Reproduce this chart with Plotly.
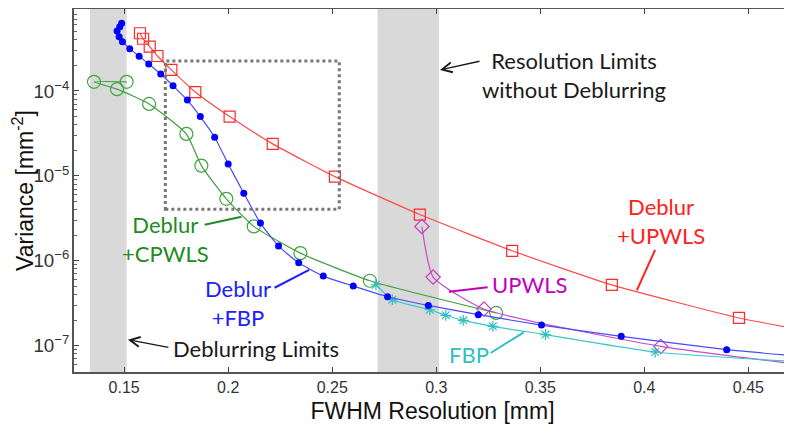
import plotly.graph_objects as go

# ---------------- data ----------------
upwls_deblur_x = [0.1576, 0.1591, 0.1623, 0.1660, 0.1727, 0.1842, 0.2007, 0.2214, 0.2513, 0.2921, 0.3365, 0.3844, 0.4455, 0.4720]
upwls_deblur_y = [4.78e-4, 4.12e-4, 3.32e-4, 2.58e-4, 1.77e-4, 9.7e-5, 4.99e-5, 2.38e-5, 9.8e-6, 3.5e-6, 1.31e-6, 5.2e-7, 2.12e-7, 1.60e-7]

fbp_deblur_x = [0.1488, 0.1479, 0.1466, 0.1476, 0.1492, 0.1527, 0.1572, 0.1618, 0.1676, 0.1735, 0.1804, 0.1866,
                0.1935, 0.2000, 0.2075, 0.2155, 0.2242, 0.2339, 0.2457, 0.2601, 0.2766, 0.2962, 0.3202, 0.3506,
                0.3889, 0.4396, 0.4720]
fbp_deblur_y = [6.25e-4, 5.7e-4, 5.08e-4, 4.36e-4, 3.8e-4, 3.15e-4, 2.56e-4, 2.08e-4, 1.58e-4, 1.15e-4, 7.8e-5, 4.99e-5,
                2.85e-5, 1.38e-5, 6.25e-6, 2.78e-6, 1.49e-6, 9.47e-7, 6.6e-7, 5.04e-7, 3.77e-7, 2.98e-7, 2.32e-7, 1.75e-7,
                1.29e-7, 8.97e-8, 7.6e-8]

cpwls_deblur_x = [0.1512, 0.1355, 0.1466, 0.1620, 0.1799, 0.1871, 0.1991, 0.2123, 0.2347, 0.2681, 0.3288]
cpwls_deblur_y = [1.28e-4, 1.28e-4, 1.05e-4, 7.03e-5, 3.12e-5, 1.32e-5, 5.36e-6, 2.54e-6, 1.23e-6, 5.82e-7, 2.43e-7]

upwls_x = [0.2931, 0.2985, 0.3229, 0.4079, 0.4720]
upwls_y = [2.53e-6, 6.43e-7, 2.70e-7, 9.8e-8, 6.1e-8]

fbp_x = [0.2710, 0.2789, 0.2969, 0.3046, 0.3130, 0.3272, 0.3525, 0.4052, 0.4720]
fbp_y = [5.22e-7, 3.48e-7, 2.65e-7, 2.28e-7, 1.99e-7, 1.69e-7, 1.35e-7, 8.43e-8, 6.5e-8]

x_ticks = [0.15, 0.2, 0.25, 0.3, 0.35, 0.4, 0.45]
x_tick_labels = ["0.15", "0.2", "0.25", "0.3", "0.35", "0.4", "0.45"]

deblur_limits = [0.1336, 0.1512]
nodeblur_limits = [0.2718, 0.3013]
zoom_box_x = [0.1698, 0.2534]
zoom_box_y = [4.05e-6, 2.25e-4]

# ---------------- figure ----------------
fig = go.Figure()

def add_series(x, y, line_color, marker):
    fig.add_trace(go.Scatter(
        x=x, y=y, mode="lines+markers",
        line=dict(color=line_color, width=1.2, shape="spline", smoothing=0.5),
        marker=marker, showlegend=False, cliponaxis=True))

add_series(upwls_deblur_x, upwls_deblur_y, "#ff4a4a",
           dict(symbol="square-open", size=11, color="#ff2a2a", line=dict(width=1.2)))
add_series(cpwls_deblur_x, cpwls_deblur_y, "#3f9f3f",
           dict(symbol="circle-open", size=13, color="#3fa63f", line=dict(width=1.2)))
add_series(upwls_x, upwls_y, "#c84ac8",
           dict(symbol="diamond-open", size=11, color="#c040c0", line=dict(width=1.2)))
add_series(fbp_x, fbp_y, "#3cc8c8",
           dict(symbol="asterisk-open", size=9, color="#30bfbf", line=dict(width=1.2)))
add_series(fbp_deblur_x, fbp_deblur_y, "#4a4aff",
           dict(symbol="circle", size=7, color="#0000ff"))

# gray bands
for band in (deblur_limits, nodeblur_limits):
    fig.add_shape(type="rect", xref="x", yref="paper", x0=band[0], x1=band[1], y0=0, y1=1,
                  fillcolor="#d9d9d9", line=dict(width=0), layer="below")

# dotted zoom box
fig.add_shape(type="rect", xref="x", yref="y", x0=zoom_box_x[0], x1=zoom_box_x[1],
              y0=zoom_box_y[0], y1=zoom_box_y[1], line=dict(color="#777777", width=3, dash="dot"))

AF = "Lato, Open Sans, sans-serif"

def label(text, x, logy, color):
    fig.add_annotation(x=x, y=logy, xref="x", yref="y", text=text, showarrow=False,
                       font=dict(family=AF, size=22, color=color), align="center")

def connector(x0, y0, x1, y1, color):
    fig.add_shape(type="line", xref="x", yref="y", x0=x0, y0=y0, x1=x1, y1=y1,
                  line=dict(color=color, width=2))

label("Resolution Limits<br>without Deblurring", 0.366, -3.812, "#1a1a1a")
fig.add_annotation(x=0.3018, y=-3.753, xref="x", yref="y", ax=41, ay=-9, text="",
                   showarrow=True, arrowhead=5, arrowsize=1.3, arrowwidth=1.5, arrowcolor="#1a1a1a")
label("Deblurring Limits", 0.2132, -7.035, "#1a1a1a")
fig.add_annotation(x=0.1518, y=-6.929, xref="x", yref="y", ax=42, ay=8, text="",
                   showarrow=True, arrowhead=5, arrowsize=1.3, arrowwidth=1.5, arrowcolor="#1a1a1a")

label("Deblur<br>+CPWLS", 0.170, -5.741, "#228b22")
connector(0.1887, 2.65e-6, 0.2064, 3.3e-6, "#228b22")
label("Deblur<br>+FBP", 0.2046, -6.494, "#2020ff")
connector(0.2223, 4.81e-7, 0.2389, 7.83e-7, "#2020ff")
label("UPWLS", 0.345, -6.282, "#c000c0")
connector(0.3247, 4.88e-7, 0.3061, 4.32e-7, "#c000c0")
label("FBP", 0.3158, -7.106, "#30c0c0")
connector(0.3261, 8.2e-8, 0.3421, 1.435e-7, "#30c0c0")
label("Deblur<br>+UPWLS", 0.4078, -5.529, "#ff2020")
connector(0.4052, 1.346e-6, 0.3964, 4.48e-7, "#ff2020")

TF = "Liberation Sans, Arial, sans-serif"
fig.update_xaxes(range=[0.1259, 0.4705], tickvals=x_ticks, ticktext=x_tick_labels,
                 ticks="inside", ticklen=5, tickwidth=1, tickcolor="#444",
                 showline=True, linecolor="#555", linewidth=1.5, mirror="ticks",
                 showgrid=False, zeroline=False, automargin=False,
                 tickfont=dict(family=TF, size=16, color="#333"),
                 title=dict(text="FWHM Resolution [mm]", font=dict(family=TF, size=23, color="#111"), standoff=8))
fig.update_yaxes(type="log", range=[-7.31, -3.035], dtick=1, exponentformat="power",
                 ticks="inside", ticklen=5, tickwidth=1, tickcolor="#444",
                 minor=dict(ticks="inside", ticklen=3, tickcolor="#666", showgrid=False),
                 showline=True, linecolor="#555", linewidth=1.5, mirror="ticks",
                 showgrid=False, zeroline=False, automargin=False,
                 tickfont=dict(family=TF, size=15, color="#333"),
                 title=dict(text="Variance [mm<sup>-2</sup>]", font=dict(family=TF, size=23, color="#111"), standoff=6))

# the page body adds an 8 px offset, so the figure is sized to fit the 792x433 window
fig.update_layout(width=784, height=425, margin=dict(l=66, r=1, t=1, b=61),
                  plot_bgcolor="white", paper_bgcolor="white")

fig.write_html("out.html")
